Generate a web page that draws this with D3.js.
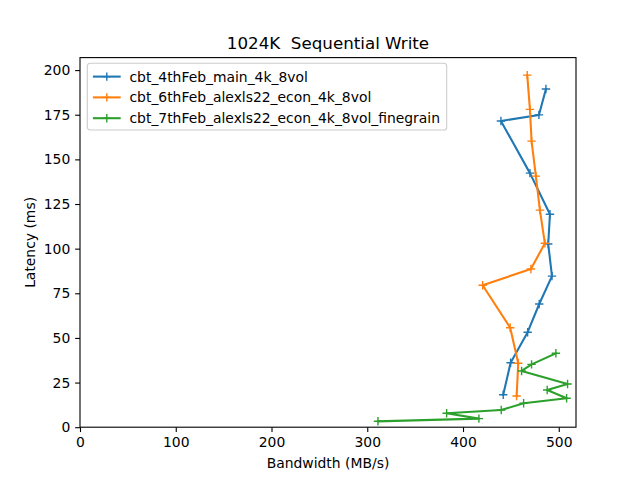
<!DOCTYPE html>
<html>
<head>
<meta charset="utf-8">
<script src="https://cdn.jsdelivr.net/npm/d3@7"></script>
<style>
  body { margin: 0; background: #fff; }
  svg { font-family: "DejaVu Sans", sans-serif; }
</style>
</head>
<body>
<svg id="chart"></svg>
<script>
// series names
const seriesNames = [
  'cbt_4thFeb_main_4k_8vol',
  'cbt_6thFeb_alexls22_econ_4k_8vol',
  'cbt_7thFeb_alexls22_econ_4k_8vol_finegrain'
];
const seriesColors = ['#1f77b4', '#ff7f0e', '#2ca02c'];

// bandwidth (MB/s) and latency (ms) per series
const mainBw = [486.6, 479.3, 439.6, 469.9, 490.8, 489.0, 492.9, 479.6, 467.5, 449.7, 442.0];
const mainLat = [189.4, 174.9, 171.5, 142.3, 119.3, 102.6, 84.6, 69.0, 53.2, 36.1, 18.2];

const econBw = [467.1, 469.9, 471.6, 476.1, 480.3, 485.5, 470.9, 420.5, 449.3, 457.7, 456.0];
const econLat = [197.2, 178.0, 160.2, 140.6, 121.6, 103.0, 88.6, 79.5, 55.7, 35.8, 17.5];

const fineBw = [497.0, 471.6, 461.2, 509.2, 487.9, 508.2, 463.3, 439.9, 382.9, 416.6, 311.2];
const fineLat = [41.4, 35.2, 31.5, 24.2, 20.8, 16.2, 13.4, 9.6, 7.8, 4.8, 3.3];

const xTicks = [0, 100, 200, 300, 400, 500];
const yTicks = [0, 25, 50, 75, 100, 125, 150, 175, 200];

const series = [
  { name: seriesNames[0], color: seriesColors[0], pts: mainBw.map((x, i) => ({ x, y: mainLat[i] })) },
  { name: seriesNames[1], color: seriesColors[1], pts: econBw.map((x, i) => ({ x, y: econLat[i] })) },
  { name: seriesNames[2], color: seriesColors[2], pts: fineBw.map((x, i) => ({ x, y: fineLat[i] })) }
];

const W = 640, H = 480;
const margin = { top: 57.6, right: 64, bottom: 52.8, left: 80 };
const width = W - margin.left - margin.right;
const height = H - margin.top - margin.bottom;

const svg = d3.select('#chart').attr('width', W).attr('height', H);
const g = svg.append('g').attr('transform', `translate(${margin.left},${margin.top})`);

const x = d3.scaleLinear().domain([0, 518]).range([0, width]);
const y = d3.scaleLinear().domain([0, 207]).range([height, 0]);

// axes
const xAxis = g.append('g')
  .attr('transform', `translate(0,${height})`)
  .call(d3.axisBottom(x).tickValues(xTicks).tickSize(4.86).tickPadding(4.86));
const yAxis = g.append('g')
  .call(d3.axisLeft(y).tickValues(yTicks).tickSize(4.86).tickPadding(4.86));

[xAxis, yAxis].forEach(a => {
  a.select('.domain').remove();
  a.selectAll('line').attr('stroke', '#000').attr('stroke-width', 1.1);
  a.selectAll('text').attr('font-size', 13.9).attr('fill', '#000')
    .attr('font-family', '"DejaVu Sans", sans-serif');
});

// lines and markers
const line = d3.line().x(d => x(d.x)).y(d => y(d.y));
series.forEach(s => {
  g.append('path')
    .datum(s.pts)
    .attr('d', line)
    .attr('fill', 'none')
    .attr('stroke', s.color)
    .attr('stroke-width', 2.08)
    .attr('stroke-linejoin', 'round')
    .attr('stroke-linecap', 'square');
  g.append('g').selectAll('path')
    .data(s.pts)
    .join('path')
    .attr('transform', d => `translate(${x(d.x)},${y(d.y)})`)
    .attr('d', 'M-4.2,0H4.2M0,-4.2V4.2')
    .attr('stroke', s.color)
    .attr('stroke-width', 1.39);
});

// frame
g.append('rect')
  .attr('width', width).attr('height', height)
  .attr('fill', 'none').attr('stroke', '#000').attr('stroke-width', 1.1);

// legend
const legend = g.append('g').attr('transform', 'translate(7.3,5.7)');
legend.append('rect')
  .attr('width', 359.4).attr('height', 66.7)
  .attr('rx', 2.8)
  .attr('fill', 'rgba(255,255,255,0.8)')
  .attr('stroke', '#cccccc')
  .attr('stroke-width', 1.1);
series.forEach((s, i) => {
  const ly = 13.3 + i * 20.8;
  const item = legend.append('g').attr('transform', `translate(0,${ly})`);
  item.append('line').attr('x1', 5.6).attr('x2', 33.4)
    .attr('stroke', s.color).attr('stroke-width', 2.08);
  item.append('path').attr('transform', 'translate(19.5,0)')
    .attr('d', 'M-4.2,0H4.2M0,-4.2V4.2')
    .attr('stroke', s.color).attr('stroke-width', 1.39);
  item.append('text').attr('x', 42.2).attr('dy', '0.36em')
    .attr('font-size', 13.9).text(s.name);
});

// title and axis labels
svg.append('text')
  .attr('x', margin.left + width / 2).attr('y', 49)
  .attr('text-anchor', 'middle').attr('font-size', 16.7)
  .style('white-space', 'pre')
  .text('1024K  Sequential Write');
svg.append('text')
  .attr('x', margin.left + width / 2).attr('y', 468)
  .attr('text-anchor', 'middle').attr('font-size', 13.9)
  .text('Bandwidth (MB/s)');
svg.append('text')
  .attr('transform', `translate(35,${margin.top + height / 2}) rotate(-90)`)
  .attr('text-anchor', 'middle').attr('font-size', 13.9)
  .text('Latency (ms)');
</script>
</body>
</html>
